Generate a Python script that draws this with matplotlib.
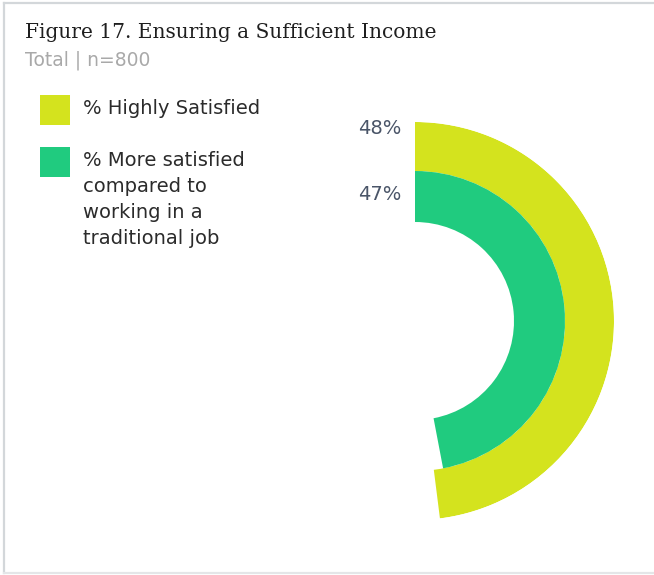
import numpy as np
import matplotlib
matplotlib.use("Agg")
import matplotlib.pyplot as plt
from matplotlib.patches import Rectangle

# Data
series = ["% Highly Satisfied",
          "% More satisfied\ncompared to\nworking in a\ntraditional job"]
values = [48, 47]            # percent of a full circle
colors = ["#d4e31e", "#20cb7f"]
value_labels = ["48%", "47%"]

W, H = 654, 575
fig = plt.figure(figsize=(W / 100, H / 100), dpi=100)
body_font = "DejaVu Sans"

# Panel border (top, left, bottom)
border = "#d3d7da"
fig.add_artist(plt.Line2D([4 / W, 1], [1 - 3 / H, 1 - 3 / H], color=border, lw=1.6,
                          transform=fig.transFigure))
fig.add_artist(plt.Line2D([4 / W, 4 / W], [1 - 3 / H, 2 / H], color=border, lw=1.6,
                          transform=fig.transFigure))
fig.add_artist(plt.Line2D([4 / W, 1], [2 / H, 2 / H], color="#e4e6e8", lw=1.6,
                          transform=fig.transFigure))

# Title
fig.text(25 / W, 1 - 33 / H, "Figure 17. Ensuring a Sufficient Income",
         family="DejaVu Serif", fontsize=14.5, color="#1f1f1f", va="center")
fig.text(25 / W, 1 - 60 / H, "Total | n=800", family=body_font, fontsize=13.5,
         color="#a9a9a9", va="center")

# Radial bars on a polar axes
cx, cy, R = 415, 321, 199
ax = fig.add_axes([(cx - R) / W, (H - cy - R) / H, 2 * R / W, 2 * R / H],
                  projection="polar")
ax.set_theta_zero_location("N")
ax.set_theta_direction(-1)
ax.set_ylim(0, R)
ring_bottom = [150, 99]
ring_height = [49, 51]
for v, c, b, h in zip(values, colors, ring_bottom, ring_height):
    ax.barh(b, v / 100 * 2 * np.pi, left=0, height=h, align="edge", color=c,
            linewidth=0)
ax.set_axis_off()

# Value labels next to the ring starts
label_y = [128, 194]
for lab, y in zip(value_labels, label_y):
    fig.text(401 / W, 1 - y / H, lab, ha="right", va="center", family=body_font,
             fontsize=14, color="#4a5568")

# Legend
leg_text_y = [109, 161]
for name, c, y in zip(series, colors, leg_text_y):
    fig.add_artist(Rectangle((40 / W, 1 - (y + 16) / H), 30 / W, 30 / H,
                             transform=fig.transFigure, color=c, lw=0))
    for k, line in enumerate(name.split("\n")):
        fig.text(83 / W, 1 - (y + 25.7 * k) / H, line, family=body_font,
                 fontsize=14, color="#2b2b2b", va="center")

fig.savefig("out.png", dpi=100, facecolor="white")
